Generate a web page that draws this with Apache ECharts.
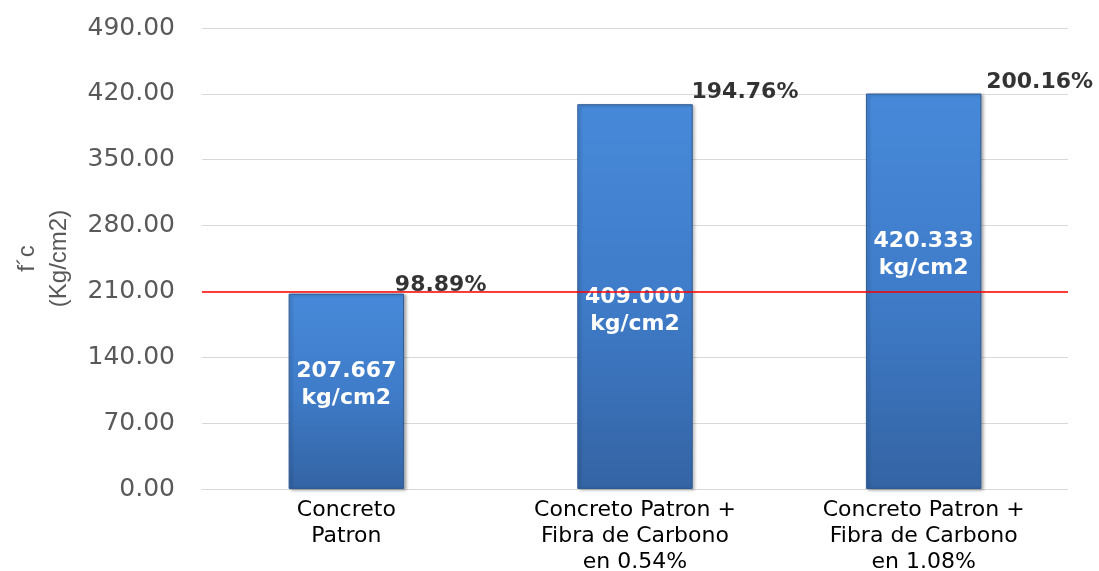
<!DOCTYPE html>
<html>
<head>
<meta charset="utf-8">
<script src="https://cdn.jsdelivr.net/npm/echarts@6/dist/echarts.min.js"></script>
<style>
  html, body { margin: 0; padding: 0; background: #ffffff; overflow: hidden; }
  #chart { width: 1099px; height: 571px; }
</style>
</head>
<body>
<div id="chart"></div>
<script>
// Compressive strength f'c per mix
const categories = [
  'Concreto\nPatron',
  'Concreto Patron +\nFibra de Carbono\nen 0.54%',
  'Concreto Patron +\nFibra de Carbono\nen 1.08%'
];
const strengths = [207.667, 409.000, 420.333];
const percentLabels = ['98.89%', '194.76%', '200.16%'];
const designStrength = 210;
const yTicks = { min: 0, max: 490, interval: 70 };

// Per-bar nudges of the labels (value label inside, percentage label at the top corner)
const insideOffsets = [-7, 14, -36];
const cornerOffsets = [[49, -8], [57, -11], [63, -11]];

const wideFont = 'DejaVu Sans, Verdana, sans-serif';
const font = 'Liberation Sans, Arial, sans-serif';

const barFill = new echarts.graphic.LinearGradient(0, 0, 0, 1, [
  { offset: 0, color: '#4789d9' },
  { offset: 0.5, color: '#3f7cc9' },
  { offset: 1, color: '#3464a4' }
]);

const chart = echarts.init(document.getElementById('chart'), null, { renderer: 'canvas' });

chart.setOption({
  animation: false,
  backgroundColor: '#ffffff',
  grid: {
    left: 202, right: 31, top: 28, bottom: 82,
    containLabel: false, outerBoundsMode: 'none'
  },
  xAxis: {
    type: 'category',
    data: categories,
    axisLine: { show: true, lineStyle: { color: '#d9d9d9', width: 1 } },
    axisTick: { show: false },
    axisLabel: {
      color: '#000000', fontFamily: wideFont, fontSize: 22, lineHeight: 26,
      margin: 8, interval: 0
    }
  },
  yAxis: {
    type: 'value',
    min: yTicks.min, max: yTicks.max, interval: yTicks.interval,
    name: 'f\u00b4c\n(Kg/cm2)',
    nameLocation: 'middle',
    nameRotate: 90,
    nameGap: 127,
    nameTextStyle: { color: '#595959', fontFamily: font, fontSize: 24, lineHeight: 32 },
    axisLine: { show: false },
    axisTick: { show: false },
    axisLabel: {
      color: '#595959', fontFamily: wideFont, fontSize: 25, margin: 27,
      formatter: v => v.toFixed(2)
    },
    splitLine: { lineStyle: { color: '#d9d9d9', width: 1 } }
  },
  series: [
    {
      // red reference line for the design strength, drawn behind the columns
      type: 'line',
      data: [],
      z: 1,
      silent: true,
      markLine: {
        silent: true,
        symbol: ['none', 'none'],
        label: { show: false },
        lineStyle: { color: '#ff0000', width: 1.5, type: 'solid', opacity: 1 },
        emphasis: { disabled: true },
        data: [{ yAxis: designStrength }]
      }
    },
    {
      type: 'bar',
      barWidth: '40%',
      z: 2,
      data: strengths.map((v, i) => ({
        value: v,
        label: { offset: [0, insideOffsets[i]] }
      })),
      itemStyle: {
        color: barFill,
        borderColor: '#2f5b94', borderWidth: 1,
        shadowColor: 'rgba(0,0,0,0.3)', shadowBlur: 3, shadowOffsetX: 2, shadowOffsetY: 1
      },
      label: {
        show: true, position: 'inside',
        color: '#ffffff', fontFamily: wideFont, fontWeight: 'bold', fontSize: 22, lineHeight: 27,
        formatter: p => p.value.toFixed(3) + '\nkg/cm2'
      }
    },
    {
      // percentage of design strength, written just off each column's top-right corner
      type: 'scatter',
      symbolSize: 1,
      z: 3,
      data: strengths.map((v, i) => ({
        value: v,
        label: { position: cornerOffsets[i] }
      })),
      itemStyle: { color: 'rgba(0,0,0,0)' },
      label: {
        show: true, align: 'left', verticalAlign: 'middle',
        color: '#000000', fontFamily: wideFont, fontWeight: 'bold', fontSize: 22,
        formatter: p => percentLabels[p.dataIndex]
      },
      labelLayout: { hideOverlap: false }
    }
  ]
});
</script>
</body>
</html>
